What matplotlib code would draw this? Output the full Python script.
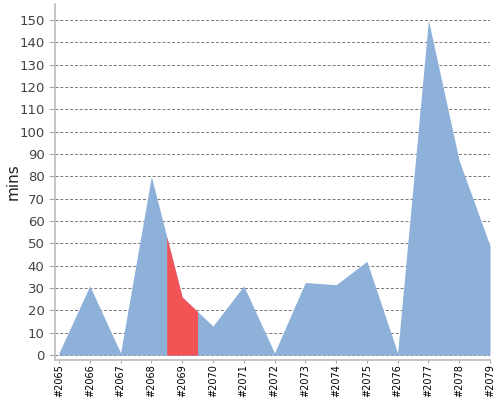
import numpy as np
import matplotlib
matplotlib.use('Agg')
from matplotlib import pyplot as plt

builds = ['#2065', '#2066', '#2067', '#2068', '#2069', '#2070', '#2071', '#2072',
          '#2073', '#2074', '#2075', '#2076', '#2077', '#2078', '#2079']
mins = [1, 31, 1, 80, 26, 13, 31, 1, 32.5, 31.5, 42, 1, 150, 87, 49]
highlight = 4  # build #2069 marked in red

x = np.arange(len(builds))
y = np.array(mins, dtype=float)

fig = plt.figure(figsize=(5, 4), dpi=100)
ax = fig.add_axes([0.11, 0.10, 0.87, 0.89])

ax.fill_between(x, 0, y, color='#8eb1da', linewidth=0, zorder=2)

# red band half a step either side of the highlighted build
xs = np.linspace(highlight - 0.5, highlight + 0.5, 101)
ax.fill_between(xs, 0, np.interp(xs, x, y), color='#f25355', linewidth=0, zorder=3)

ax.set_xlim(-0.13, len(builds) - 1)
ax.set_ylim(-2.2, 157.2)
ax.set_yticks(np.arange(0, 151, 10))
ax.set_xticks(x)
ax.set_xticklabels(builds, rotation=90, fontsize=7, color='#000000')
ax.tick_params(axis='y', labelsize=9.5, labelcolor='#444444', color='#aaaaaa', length=4)
ax.tick_params(axis='x', color='#aaaaaa', length=2, pad=1)
ax.grid(axis='y', linestyle=(0, (3, 2)), color='#777777', linewidth=0.7, zorder=1)
ax.set_axisbelow(True)

for s in ['top', 'right']:
    ax.spines[s].set_visible(False)
for s in ['left', 'bottom']:
    ax.spines[s].set_color('#bbbbbb')
    ax.spines[s].set_linewidth(1.2)

ax.set_ylabel('mins', fontsize=11, color='#222222')
ax.yaxis.set_label_coords(-0.08, 0.5)

fig.savefig('out.png', dpi=100)
